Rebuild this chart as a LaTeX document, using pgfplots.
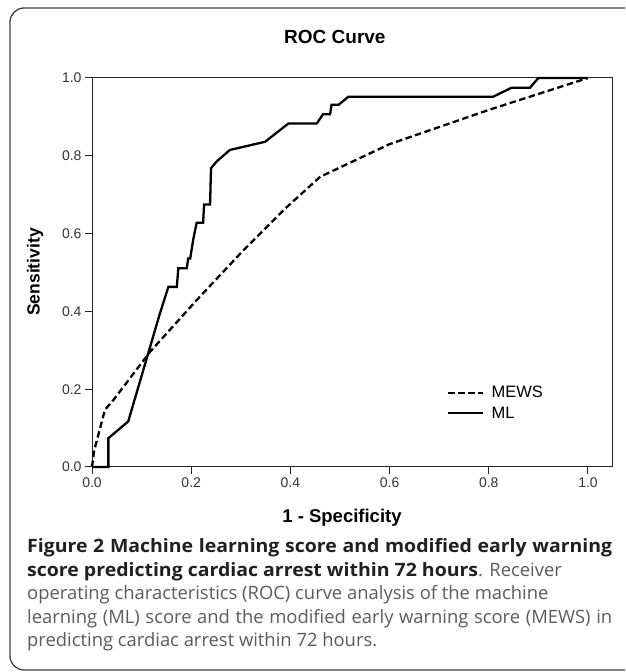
\documentclass[border=0pt]{standalone}
\usepackage{fontspec}
\setmainfont{Liberation Sans}
\newfontfamily\capfont{Open Sans}
\usepackage{graphicx}
\usepackage{pgfplots}
\pgfplotsset{compat=1.18}
\definecolor{capbold}{HTML}{231F20}
\definecolor{capreg}{HTML}{5A5B5E}
\definecolor{ticktxt}{HTML}{333333}
\newlength\wtwo
\newcommand\capB{\capfont\bfseries\fontsize{18.4}{22}\selectfont}
\newcommand\capR{\capfont\fontsize{18.4}{22}\selectfont}
\begin{document}%
\settowidth\wtwo{\capB score predicting cardiac arrest within 72 hours}%
\pgfmathsetmacro\sfac{451/\wtwo}%
\pgfmathsetlengthmacro\wone{585pt/\sfac}%
\begin{tikzpicture}[x=1pt,y=1pt]
\useasboundingbox (0,0) rectangle (625,672);
\begin{scope}
\clip (0,0) rectangle (625,672);
\draw[line width=1.3pt, color=black!75, rounded corners=14pt] (10,2) rectangle (660,664);
\end{scope}
\begin{axis}[
  at={(92pt,205pt)}, anchor=south west,
  width=520pt, height=389pt, scale only axis,
  xmin=0, xmax=1.0484, ymin=0, ymax=1,
  xtick={0,0.2,0.4,0.6,0.8,1.0},
  xticklabels={0.0,0.2,0.4,0.6,0.8,1.0},
  ytick={0,0.2,0.4,0.6,0.8,1.0},
  yticklabels={0.0,0.2,0.4,0.6,0.8,1.0},
  tick align=outside, xtick pos=bottom, ytick pos=left,
  major tick length=7pt,
  tick style={line width=1pt, color=black!85},
  axis line style={line width=1pt, color=black!85},
  ticklabel style={font=\fontsize{14}{16}\selectfont, color=ticktxt},
  legend style={at={(axis cs:0.716,0.213)}, anchor=north west, draw=none, fill=none,
    font=\fontsize{16.5}{18}\selectfont, row sep=3.5pt, column sep=5pt, inner sep=0pt},
  legend cell align=left,
  legend image code/.code={\draw[#1] (0pt,0pt) -- (35pt,0pt);},
  clip=false,
]
\addplot[line width=2.3pt, dash pattern=on 6.5pt off 3.5pt, color=black] coordinates {
(0,0) (0.004,0.04) (0.026,0.147) (0.043,0.172) (0.117,0.296) (0.211,0.429)
(0.30,0.55) (0.39,0.665) (0.46,0.746) (0.60,0.83) (0.80,0.918) (1,1)
};
\addlegendentry{MEWS}
\addplot[line width=2.3pt, color=black] coordinates {
(0,0) (0.033,0) (0.033,0.074) (0.073,0.117) (0.137,0.395) (0.154,0.463)
(0.171,0.463) (0.174,0.511) (0.191,0.511) (0.194,0.536) (0.198,0.536)
(0.204,0.584) (0.211,0.628) (0.224,0.628) (0.226,0.675) (0.238,0.675)
(0.240,0.768) (0.251,0.785) (0.278,0.815) (0.349,0.836) (0.396,0.883)
(0.453,0.883) (0.466,0.907) (0.480,0.907) (0.483,0.931) (0.497,0.931)
(0.517,0.952) (0.809,0.952) (0.846,0.975) (0.883,0.975) (0.900,1.0) (1.0,1.0)
};
\addlegendentry{ML}
\end{axis}
\node[font=\bfseries\fontsize{19}{22}\selectfont, anchor=west, inner sep=0pt] at (284,635) {ROC Curve};
\node[font=\bfseries\fontsize{18.5}{21}\selectfont] at (342,154) {1 - Specificity};
\node[font=\bfseries\fontsize{17.5}{21}\selectfont, rotate=90] at (35,400) {Sensitivity};
\begin{scope}[every node/.style={anchor=base west, inner sep=0pt}]
\node[color=capbold, font=\capB] at (27,119)
  {\scalebox{\sfac}[1]{\makebox[\wone][s]{Figure 2 Machine learning score and modified early warning}}};
\node[font=\capR] at (27,95.5)
  {\textcolor{capbold}{\scalebox{\sfac}[1]{\capB score predicting cardiac arrest within 72 hours}}\textcolor{capreg}{. Receiver}};
\node[color=capreg, font=\capR] at (27,72)
  {operating characteristics (ROC) curve analysis of the machine};
\node[color=capreg, font=\capR] at (27,48.5)
  {\makebox[585pt][s]{learning (ML) score and the modified early warning score (MEWS) in}};
\node[color=capreg, font=\capR] at (27,25)
  {predicting cardiac arrest within 72 hours.};
\end{scope}
\end{tikzpicture}
\end{document}
